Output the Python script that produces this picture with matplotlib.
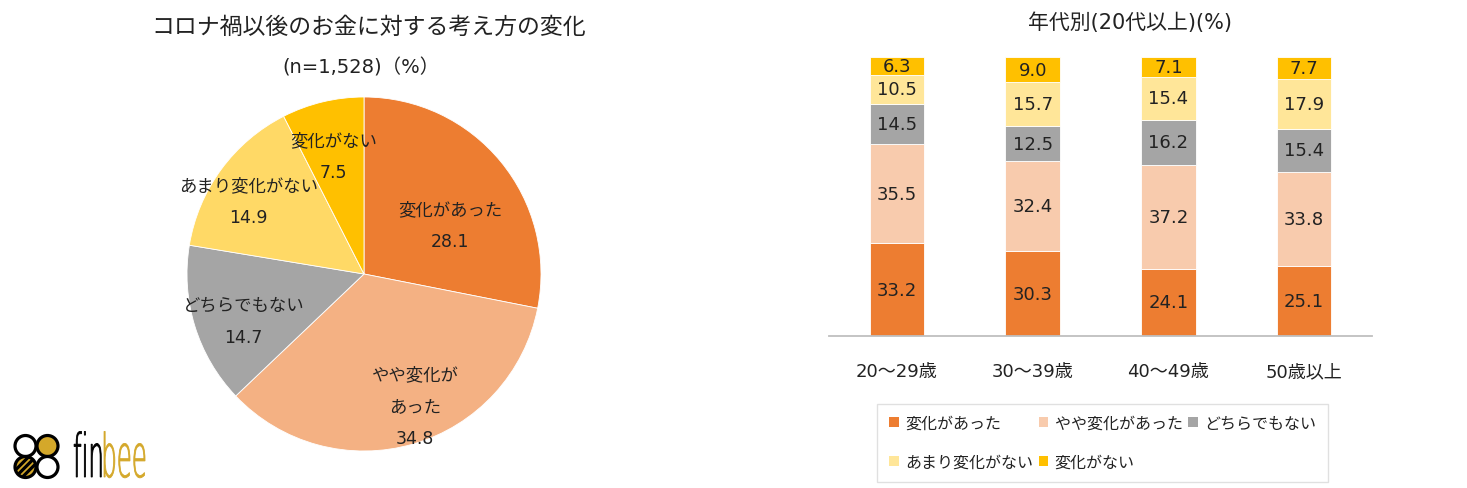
import numpy as np
import matplotlib
matplotlib.use("Agg")
import matplotlib.pyplot as plt
from matplotlib.patches import Patch, Circle, PathPatch
from matplotlib.textpath import TextPath
from matplotlib.font_manager import FontProperties
from matplotlib.transforms import Affine2D

# Latin glyphs from DejaVu (Verdana-like, as Meiryo), CJK from Noto
plt.rcParams['font.family'] = ['DejaVu Sans', 'Noto Sans CJK JP']

# pie data
pie_labels = ['変化があった', 'やや変化が\nあった', 'どちらでもない', 'あまり変化がない', '変化がない']
pie_values = [28.1, 34.8, 14.7, 14.9, 7.5]
pie_colors = ['#ED7D31', '#F4B183', '#A5A5A5', '#FFD966', '#FFC000']

# bar data
ages = ['20～29歳', '30～39歳', '40～49歳', '50歳以上']
series_names = ['変化があった', 'やや変化があった', 'どちらでもない', 'あまり変化がない', '変化がない']
changed = [33.2, 30.3, 24.1, 25.1]
some_change = [35.5, 32.4, 37.2, 33.8]
neither = [14.5, 12.5, 16.2, 15.4]
little_change = [10.5, 15.7, 15.4, 17.9]
no_change = [6.3, 9.0, 7.1, 7.7]
bar_colors = ['#ED7D31', '#F8CBAD', '#A5A5A5', '#FFE699', '#FFC000']

W, H = 1467, 489
fig = plt.figure(figsize=(W / 100, H / 100), dpi=100)

def px_axes(x0, y0, x1, y1):
    return fig.add_axes([x0 / W, 1 - y1 / H, (x1 - x0) / W, (y1 - y0) / H])

# ---- pie ----
cx, cy, r = 364, 275, 177
ax = px_axes(cx - r, cy - r, cx + r, cy + r)
wedges, _ = ax.pie(pie_values, colors=pie_colors, startangle=90, counterclock=False,
                   wedgeprops=dict(edgecolor='white', linewidth=0.6))
ax.set_xlim(-1, 1)
ax.set_ylim(-1, 1)
# label placement (distance from centre, angle tweak in degrees)
lab_pos = [(0.56, -10), (0.80, 5), (0.73, 4), (0.77, 4), (0.69, 1)]
for w, lab, v, (d, dt) in zip(wedges, pie_labels, pie_values, lab_pos):
    ang = np.deg2rad((w.theta1 + w.theta2) / 2 + dt)
    ax.text(d * np.cos(ang), d * np.sin(ang), lab + '\n' + f'{v:.1f}',
            ha='center', va='center', fontsize=12.5, color='#222222', linespacing=2.0)

fig.text(369 / W, 1 - 27 / H, 'コロナ禍以後のお金に対する考え方の変化', ha='center', va='center',
         fontsize=16.5, color='#222222')
fig.text(361 / W, 1 - 68 / H, '(n=1,528)（%）', ha='center', va='center',
         fontsize=14, color='#222222')

# ---- stacked bars ----
bx = px_axes(829, 58, 1372, 337)
x = np.arange(len(ages))
bottom = np.zeros(len(ages))
series = [changed, some_change, neither, little_change, no_change]
for vals, col in zip(series, bar_colors):
    vals = np.array(vals)
    bx.bar(x, vals, 0.4, bottom=bottom, color=col, edgecolor='white', linewidth=0.6)
    for xi, b, v in zip(x, bottom, vals):
        bx.text(xi, b + v / 2, f'{v:.1f}', ha='center', va='center', fontsize=13, color='#222222')
    bottom += vals
bx.set_xlim(-0.5, 3.5)
bx.set_ylim(0, 100)
bx.set_yticks([])
bx.set_xticks(x)
bx.set_xticklabels(ages, fontsize=13, color='#222222')
bx.tick_params(axis='x', length=0, pad=19)
for s in ['top', 'left', 'right']:
    bx.spines[s].set_visible(False)
bx.spines['bottom'].set_color('#BFBFBF')
bx.spines['bottom'].set_linewidth(1.3)

fig.text(1130 / W, 1 - 23 / H, '年代別(20代以上)(%)', ha='center', va='center',
         fontsize=15, color='#222222')

handles = [Patch(facecolor=c) for c in bar_colors]
order = [0, 3, 1, 4, 2]
leg = fig.legend([handles[i] for i in order], [series_names[i] for i in order],
                 ncol=3, loc='upper left', bbox_to_anchor=(877 / W, 1 - 405 / H),
                 borderaxespad=0, fontsize=11.5, frameon=True, fancybox=False,
                 edgecolor='#D9D9D9', handlelength=0.6, handleheight=0.6, handletextpad=0.4,
                 columnspacing=0.35, labelspacing=1.5, borderpad=0.75)
leg.get_frame().set_linewidth(1.0)
for t in leg.get_texts():
    t.set_color('#222222')

# ---- logo ----
lg = px_axes(0, 419, 160, 489)
lg.set_xlim(0, 160)
lg.set_ylim(0, 70)
lg.axis('off')
gold = '#D4A82A'
def py(y):
    return 489 - y
lg.add_patch(Circle((25.5, py(447)), 10.5, facecolor='white', edgecolor='black', lw=2.3))
lg.add_patch(Circle((47.5, py(447)), 10.5, facecolor=gold, edgecolor='black', lw=2.3))
lg.add_patch(Circle((47.5, py(468)), 10.5, facecolor='white', edgecolor='black', lw=2.3))
bee = Circle((25.5, py(468)), 10.5, facecolor=gold, edgecolor='black', lw=2.3)
lg.add_patch(bee)
for off in [-7, 0, 7]:
    ln, = lg.plot([25.5 - 12 + off, 25.5 + 12 + off], [py(468) - 12, py(468) + 12],
                  color='black', lw=2.3)
    ln.set_clip_path(bee)

fp = FontProperties(family='DejaVu Sans', weight='light')
tp_fin = TextPath((0, 0), 'fin', size=60, prop=fp)
tp_bee = TextPath((0, 0), 'bee', size=60, prop=fp)
fin_w = tp_fin.get_extents().x1
bee_w = tp_bee.get_extents().x1
sx = 72 / (fin_w + bee_w)
lg.add_patch(PathPatch(Affine2D().scale(sx, 1).translate(73, py(478)).transform_path(tp_fin),
                       facecolor='black', edgecolor='black', lw=0.6))
lg.add_patch(PathPatch(Affine2D().scale(sx, 1).translate(73 + fin_w * sx, py(478)).transform_path(tp_bee),
                       facecolor=gold, edgecolor=gold, lw=0.6))

fig.savefig('out.png', dpi=100, facecolor='white')
